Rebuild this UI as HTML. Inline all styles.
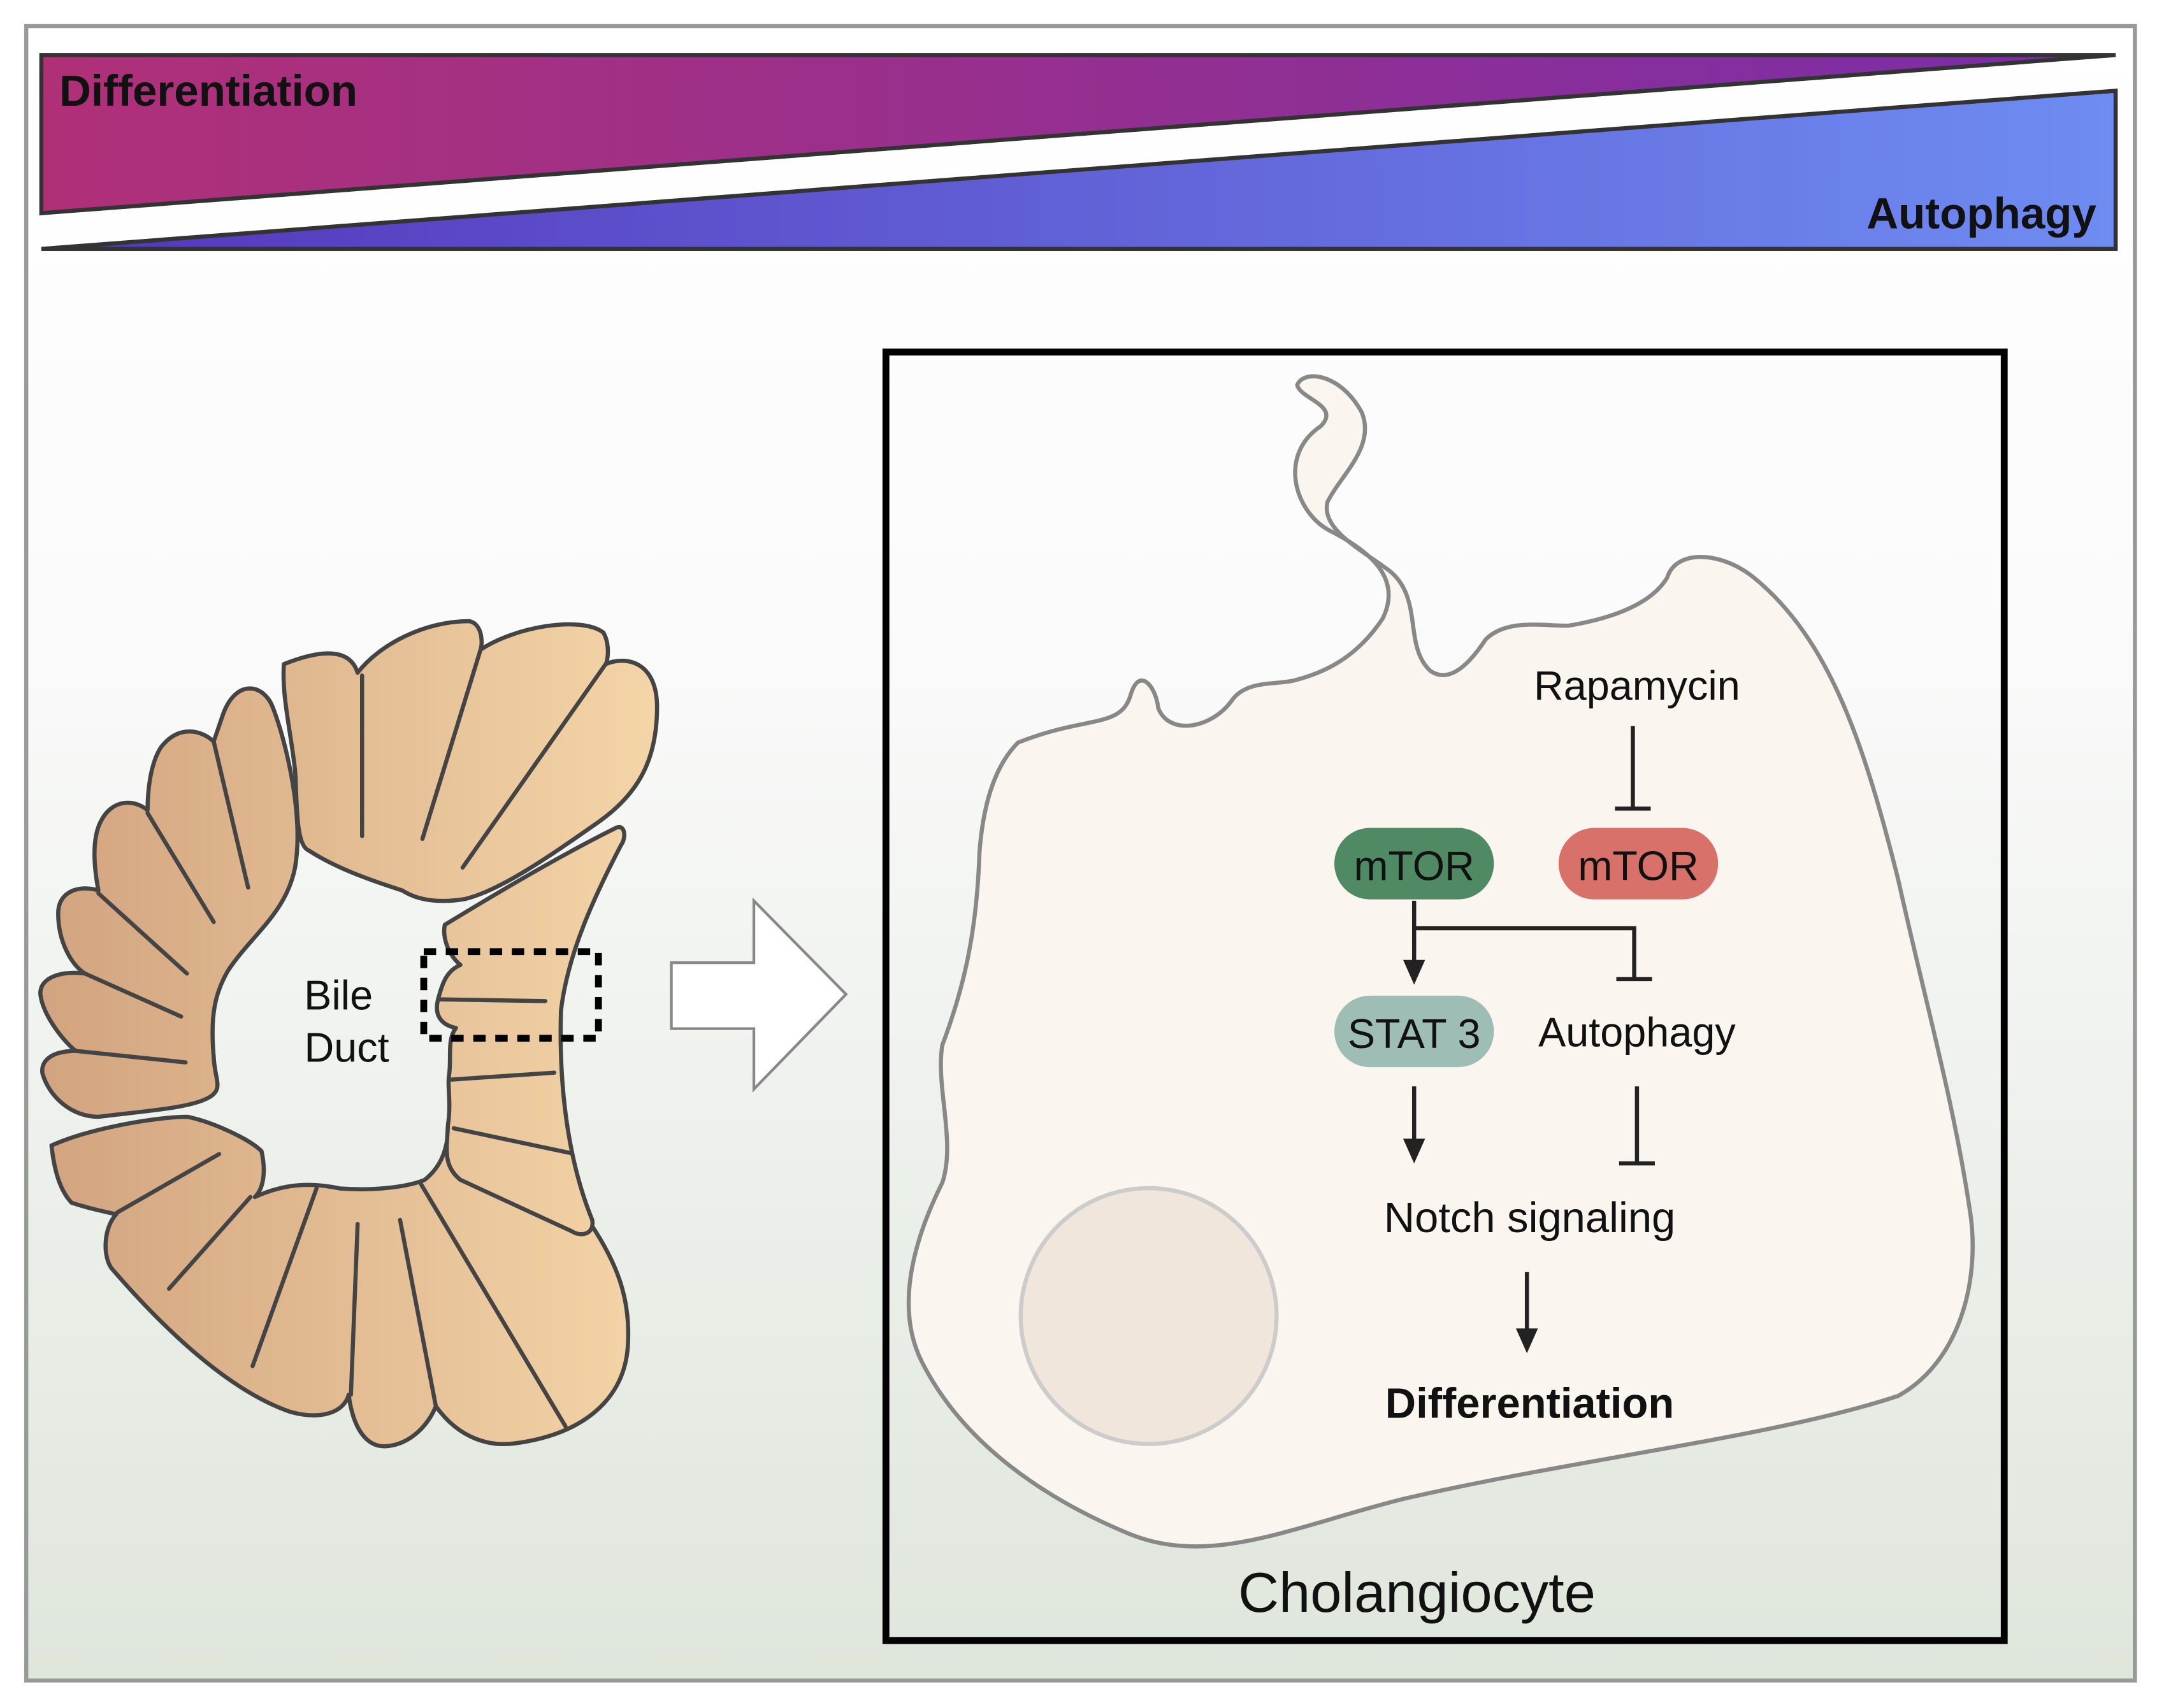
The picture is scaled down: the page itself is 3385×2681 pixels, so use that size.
<!DOCTYPE html>
<html><head><meta charset="utf-8"><style>html,body{margin:0;padding:0;background:#fff}svg{display:block}</style></head><body>
<svg width="3385" height="2681" viewBox="0 0 1568 1242" xmlns="http://www.w3.org/2000/svg" font-family="'Liberation Sans', sans-serif">
<defs>
<linearGradient id="bg" x1="0" y1="0" x2="0" y2="1"><stop offset="0" stop-color="#ffffff"/><stop offset="0.35" stop-color="#fbfbfb"/><stop offset="1" stop-color="#dfe6dc"/></linearGradient>
<linearGradient id="pur" x1="0" y1="0" x2="1" y2="0"><stop offset="0" stop-color="#b03078"/><stop offset="1" stop-color="#7a2ea8"/></linearGradient>
<linearGradient id="blu" x1="0" y1="0" x2="1" y2="0"><stop offset="0" stop-color="#5536bb"/><stop offset="1" stop-color="#6e8cf2"/></linearGradient>
<linearGradient id="tan" gradientUnits="userSpaceOnUse" x1="100" y1="0" x2="1470" y2="0"><stop offset="0" stop-color="#d2a47f"/><stop offset="1" stop-color="#f4d5a8"/></linearGradient>
</defs>
<rect x="0" y="0" width="1568" height="1242" fill="#fff"/>
<rect x="19" y="19" width="1533" height="1203" fill="url(#bg)" stroke="#999" stroke-width="3"/>
<polygon points="30,40 1538,40 30,155" fill="url(#pur)" stroke="#333" stroke-width="3"/>
<polygon points="30,181 1538,181 1538,66" fill="url(#blu)" stroke="#333" stroke-width="3"/>
<text x="43" y="77" font-size="32" font-weight="bold" fill="#111">Differentiation</text>
<text x="1524" y="166" font-size="32" font-weight="bold" fill="#111" text-anchor="end">Autophagy</text>

<!-- bile duct -->
<g transform="translate(0,435) scale(0.3249,0.4167)" stroke="#444" fill="url(#tan)" stroke-linecap="round" stroke-linejoin="round">
<g stroke-width="6.5">
<path vector-effect="non-scaling-stroke" d="M635,115 C700,95 780,80 800,130 C850,80 950,40 1050,40 C1080,45 1080,80 1075,90 C1150,50 1300,30 1350,60 C1365,80 1360,110 1355,115 C1400,100 1470,110 1470,190 C1470,280 1430,340 1340,390 C1230,450 1120,510 1040,525 C960,535 920,520 900,510 C820,490 750,470 690,440 C660,430 665,350 660,300 C650,230 630,170 635,115 Z"/>
<path vector-effect="non-scaling-stroke" d="M810,135 L810,415 M1075,90 L945,420 M1355,115 L1035,470" fill="none"/>
<path vector-effect="non-scaling-stroke" d="M660,470 C680,380 640,250 610,190 C590,150 530,140 500,200 L478,250 C450,230 400,220 360,260 C335,290 330,340 330,370 C300,350 250,350 225,390 C205,420 210,470 220,510 C180,500 130,510 130,550 C130,600 160,640 190,655 C140,650 90,660 90,690 C95,730 150,780 170,790 C110,790 90,810 95,830 C110,870 160,905 220,905 C320,895 430,890 470,870 C500,855 480,840 478,800 C470,730 480,690 510,650 C560,590 640,550 660,470 Z"/>
<path vector-effect="non-scaling-stroke" d="M478,250 L555,505 M330,375 L478,565 M220,515 L418,655 M190,655 L405,730 M170,790 L415,810" fill="none"/>
<path vector-effect="non-scaling-stroke" d="M115,955 C200,925 350,905 420,905 C480,915 560,945 585,965 C595,1000 590,1030 570,1045 C640,1020 700,1020 760,1030 C850,1035 920,1025 950,1015 C990,990 1000,960 1005,920 L1320,1090 C1380,1160 1410,1220 1405,1300 C1400,1400 1300,1460 1150,1475 C1100,1480 1030,1470 975,1410 C960,1440 920,1478 860,1480 C820,1480 790,1450 780,1390 C770,1420 720,1435 650,1420 C500,1380 350,1260 250,1170 C230,1150 230,1100 260,1075 C230,1070 200,1065 160,1055 C130,1030 120,990 115,955 Z"/>
<path vector-effect="non-scaling-stroke" d="M490,970 L262,1072 M560,1045 L378,1205 M708,1030 L565,1340 M800,1092 L785,1390 M895,1085 L975,1410 M940,1020 L1265,1445" fill="none"/>
<path vector-effect="non-scaling-stroke" d="M995,570 C1100,520 1250,450 1380,400 C1400,395 1400,420 1390,430 C1330,520 1270,620 1255,720 C1250,850 1270,980 1325,1085 C1330,1110 1300,1115 1280,1105 L1030,1015 C990,990 1000,960 1002,920 C1010,880 1000,850 1005,830 C1010,800 1000,770 1020,750 C990,745 970,730 980,700 C990,670 1000,650 1030,640 C1000,620 990,590 995,570 Z"/>
<path vector-effect="non-scaling-stroke" d="M1010,840 L1240,828 M1015,925 L1275,968 M980,700 L1220,703" fill="none"/>
</g>
</g>
<rect x="308" y="692" width="127" height="63" fill="none" stroke="#000" stroke-width="5" stroke-dasharray="9,7"/>
<text x="246" y="734" font-size="30" text-anchor="middle" fill="#111">Bile</text>
<text x="252" y="772" font-size="30" text-anchor="middle" fill="#111">Duct</text>

<polygon points="488,700 548,700 548,655 615,723 548,792 548,748 488,748" fill="#fff" stroke="#888" stroke-width="2"/>

<rect x="644" y="256" width="813" height="937" fill="none" stroke="#000" stroke-width="5"/>
<path d="M740,540 C790,520 815,530 822,505 C828,485 840,498 842,515 C850,535 880,530 895,510 C905,495 925,498 940,495 C960,490 985,480 1005,450 C1020,420 995,400 965,385 C940,370 930,330 960,310 C975,295 945,290 943,280 C948,268 975,272 990,300 C1000,325 975,345 965,365 C960,385 990,400 1010,415 C1035,435 1020,470 1040,488 C1055,498 1070,480 1080,465 C1095,450 1120,455 1140,455 C1170,450 1200,440 1212,420 C1218,400 1250,400 1275,420 C1330,465 1355,540 1380,640 C1400,730 1420,800 1432,880 C1440,930 1425,990 1380,1015 C1290,1045 1150,1060 1020,1090 C940,1110 880,1140 820,1115 C760,1090 700,1050 670,990 C650,950 665,900 685,860 C695,830 680,790 685,760 C700,720 710,680 712,620 C715,580 725,555 740,540 Z" fill="#faf5ef" stroke="#888" stroke-width="3"/>
<circle cx="835" cy="957" r="93" fill="#f1e6dc" stroke="#ccc" stroke-width="3"/>

<text x="1190" y="509" font-size="30" text-anchor="middle" fill="#111">Rapamycin</text>
<g stroke="#222" stroke-width="3" fill="none">
<line x1="1187" y1="528" x2="1187" y2="588"/><line x1="1174" y1="588" x2="1200" y2="588"/>
<line x1="1028" y1="655" x2="1028" y2="702"/>
<polyline points="1028,675 1188,675 1188,712"/><line x1="1175" y1="712" x2="1201" y2="712"/>
<line x1="1028" y1="790" x2="1028" y2="832"/>
<line x1="1190" y1="790" x2="1190" y2="846"/><line x1="1177" y1="846" x2="1203" y2="846"/>
<line x1="1110" y1="925" x2="1110" y2="970"/>
</g>
<g fill="#222"><polygon points="1020,698 1036,698 1028,716"/><polygon points="1020,828 1036,828 1028,846"/><polygon points="1102,966 1118,966 1110,984"/></g>
<rect x="970" y="602" width="116" height="52" rx="26" fill="#4f8a64"/>
<text x="1028" y="640" font-size="30" text-anchor="middle" fill="#111">mTOR</text>
<rect x="1133" y="602" width="116" height="52" rx="26" fill="#d9716b"/>
<text x="1191" y="640" font-size="30" text-anchor="middle" fill="#111">mTOR</text>
<rect x="970" y="724" width="116" height="52" rx="26" fill="#9ebdb4"/>
<text x="1028" y="762" font-size="30" text-anchor="middle" fill="#111">STAT 3</text>
<text x="1190" y="761" font-size="30" text-anchor="middle" fill="#111">Autophagy</text>
<text x="1112" y="896" font-size="31" text-anchor="middle" fill="#111">Notch signaling</text>
<text x="1112" y="1031" font-size="31" font-weight="bold" text-anchor="middle" fill="#111">Differentiation</text>
<text x="1030" y="1172" font-size="41" text-anchor="middle" fill="#111">Cholangiocyte</text>
</svg>
</body></html>
